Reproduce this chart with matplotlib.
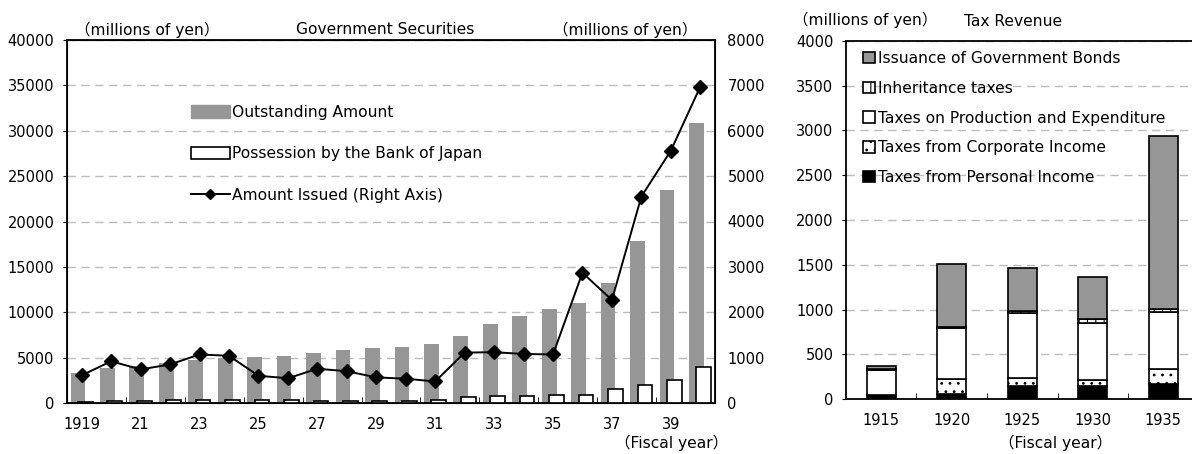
import matplotlib
matplotlib.use('Agg')
import matplotlib.pyplot as plt
import numpy as np
from matplotlib.lines import Line2D
from matplotlib.patches import Patch

plt.rcParams['font.family'] = ['DejaVu Sans', 'Noto Sans CJK JP']
plt.rcParams['hatch.linewidth'] = 0.8

# ---- Government securities (left chart) ----
years = list(range(1919, 1941))
outstanding = [3340, 3890, 4100, 4440, 4740, 4950, 5050, 5200, 5500, 5840,
               6100, 6200, 6500, 7380, 8700, 9590, 10390, 11050, 13260, 17890,
               23470, 30890]
boj_possession = [100, 200, 200, 350, 280, 280, 300, 330, 250, 250,
                  250, 200, 300, 630, 770, 770, 850, 915, 1510, 1950,
                  2530, 4000]
amount_issued = [610, 920, 740, 850, 1070, 1040, 600, 545, 755, 700,
                 565, 535, 475, 1110, 1120, 1080, 1070, 2870, 2270, 4550,
                 5560, 6970]
year_labels = ['1919', '21', '23', '25', '27', '29', '31', '33', '35', '37', '39']

# ---- Tax revenue (right chart) ----
tax_years = ['1915', '1920', '1925', '1930', '1935']
personal = [40, 60, 150, 152, 170]
corporate = [5, 167, 84, 60, 165]
production = [285, 570, 727, 644, 637]
inheritance = [3, 10, 26, 41, 37]
bonds = [35, 708, 480, 466, 1924]

GRAY = '#969696'
GRID = '#bcbcbc'
FS = 10.5     # tick labels
TS = 11.2     # legend / notes

fig = plt.figure(figsize=(11.92, 4.54), dpi=100)

# left chart
ax = fig.add_axes([67/1192, 1-403/454, 648/1192, 363/454])
x = np.arange(len(years))
ax.bar(x - 0.13, outstanding, width=0.5, color=GRAY, zorder=2)
ax.bar(x + 0.12, boj_possession, width=0.5, facecolor='white',
       edgecolor='black', linewidth=1.2, zorder=3)
ax.set_xlim(-0.5, len(years) - 0.5)
ax.set_ylim(0, 40000)
ax.set_yticks(range(0, 40001, 5000))
ax.yaxis.grid(True, color=GRID, linestyle=(0, (6, 4)), linewidth=1)
ax.set_axisbelow(True)
ax.set_xticks(x[::2])
ax.set_xticklabels(year_labels)
ax.set_xticks(np.arange(1.5, len(years) - 1, 2), minor=True)
ax.tick_params(axis='x', which='major', length=0, pad=10, labelsize=FS)
ax.tick_params(axis='x', which='minor', direction='in', length=4)
ax.tick_params(axis='y', labelsize=FS, length=3, pad=6)
for s in ax.spines.values():
    s.set_linewidth(1.3)

ax2 = ax.twinx()
ax2.plot(x, amount_issued, color='black', linewidth=1.4, marker='D',
         markersize=7, zorder=5)
ax2.set_ylim(0, 8000)
ax2.set_yticks(range(0, 8001, 1000))
ax2.tick_params(axis='y', labelsize=FS, length=0, pad=9)

handles = [Patch(facecolor=GRAY, edgecolor=GRAY),
           Patch(facecolor='white', edgecolor='black', linewidth=1.2),
           Line2D([0], [0], color='black', marker='D', markersize=5.5, linewidth=1.4)]
ax.legend(handles, ['Outstanding Amount', 'Possession by the Bank of Japan',
                    'Amount Issued (Right Axis)'],
          loc='upper left', bbox_to_anchor=(191/1192, 1-105/454),
          bbox_transform=fig.transFigure, frameon=False, fontsize=TS,
          handlelength=2.5, handleheight=0.85, handletextpad=0.15,
          labelspacing=1.7, borderpad=0, borderaxespad=0)

fig.text(75/1192, 1-30/454, '（millions of yen）', fontsize=TS, va='center', ha='left')
fig.text(385/1192, 1-30/454, 'Government Securities', fontsize=TS, va='center', ha='center')
fig.text(697/1192, 1-30/454, '（millions of yen）', fontsize=TS, va='center', ha='right')
fig.text(728/1192, 1-443/454, '（Fiscal year）', fontsize=TS, va='center', ha='right')

# right chart
bx = fig.add_axes([846/1192, 1-399.3/454, 352.5/1192, 358.5/454])
tx = np.arange(len(tax_years))
w = 0.41
bottom = np.zeros(len(tax_years))
layers = [(personal, 'black', None, 'Taxes from Personal Income'),
          (corporate, 'white', '..', 'Taxes from Corporate Income'),
          (production, 'white', None, 'Taxes on Production and Expenditure'),
          (inheritance, 'white', '||', 'Inheritance taxes'),
          (bonds, GRAY, None, 'Issuance of Government Bonds')]
bars = []
for vals, fc, hatch, lab in layers:
    b = bx.bar(tx, vals, width=w, bottom=bottom, facecolor=fc, edgecolor='black',
               linewidth=1.2, hatch=hatch, label=lab, zorder=2)
    bars.append(b)
    bottom = bottom + np.array(vals)
bx.set_xlim(-0.5, len(tax_years) - 0.5)
bx.set_ylim(0, 4000)
bx.set_yticks(range(0, 4001, 500))
bx.yaxis.grid(True, color=GRID, linestyle=(0, (6, 4)), linewidth=1)
bx.set_axisbelow(True)
bx.set_xticks(tx)
bx.set_xticklabels(tax_years)
bx.set_xticks(np.arange(0.5, len(tax_years) - 1, 1), minor=True)
bx.tick_params(axis='x', which='major', length=0, pad=10, labelsize=FS)
bx.tick_params(axis='x', which='minor', direction='in', length=4)
bx.tick_params(axis='y', labelsize=FS, length=3, pad=6)
for s in bx.spines.values():
    s.set_linewidth(1.3)
bx.legend(bars[::-1], [l[3] for l in layers[::-1]], loc='upper left',
          bbox_to_anchor=(863/1192, 1-51/454), bbox_transform=fig.transFigure,
          frameon=False, fontsize=TS, handlelength=0.75, handleheight=0.75,
          handletextpad=0.2, labelspacing=0.95, borderpad=0, borderaxespad=0)

fig.text(793/1192, 1-20/454, '（millions of yen）', fontsize=TS, va='center', ha='left')
fig.text(1013/1192, 1-22/454, 'Tax Revenue', fontsize=TS, va='center', ha='center')
fig.text(1112/1192, 1-443/454, '（Fiscal year）', fontsize=TS, va='center', ha='right')

fig.savefig('out.png', dpi=100)
